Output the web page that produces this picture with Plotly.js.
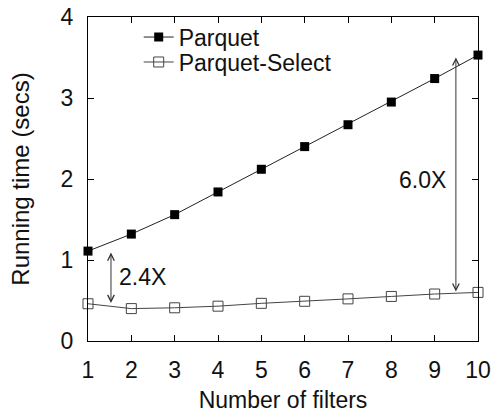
<!DOCTYPE html>
<html>
<head>
<meta charset="utf-8">
<script src="https://cdn.plot.ly/plotly-3.0.1.min.js"></script>
<style>html,body{margin:0;padding:0;background:#fff;}#chart{width:491px;height:413px;}</style>
</head>
<body>
<div id="chart"></div>
<script>
const filters = [1, 2, 3, 4, 5, 6, 7, 8, 9, 10];
const parquet = [1.11, 1.32, 1.56, 1.84, 2.12, 2.40, 2.67, 2.95, 3.24, 3.53];
const parquetSelect = [0.46, 0.40, 0.41, 0.43, 0.465, 0.49, 0.52, 0.55, 0.58, 0.60];
const xTicks = [1, 2, 3, 4, 5, 6, 7, 8, 9, 10];
const yTicks = [0, 1, 2, 3, 4];

const font = {family: 'Liberation Sans, Arial, sans-serif', size: 23, color: '#111'};
const yTitleFont = Object.assign({}, font, {size: 24});

const traces = [
  {x: filters, y: parquet, name: 'Parquet', mode: 'lines+markers', legend: 'legend',
   line: {color: '#222', width: 1}, marker: {symbol: 'square', size: 9, color: '#000'}, cliponaxis: false},
  {x: filters, y: parquetSelect, name: 'Parquet-Select', mode: 'lines+markers', legend: 'legend2',
   line: {color: '#444', width: 1}, marker: {symbol: 'square-open', size: 10, color: '#444', line: {width: 1}}, cliponaxis: false}
];

const axisCommon = {showgrid: false, zeroline: false, showline: true, linecolor: '#000', linewidth: 1.2,
  mirror: 'ticks', ticks: 'inside', ticklen: 6, tickcolor: '#000', tickfont: font};

const legendCommon = {xanchor: 'left', yanchor: 'middle', bgcolor: 'rgba(0,0,0,0)', font: font, itemwidth: 30};

const layout = {
  width: 491, height: 413,
  margin: {l: 88, r: 13, t: 17, b: 72},
  paper_bgcolor: '#fff', plot_bgcolor: '#fff',
  font: font,
  showlegend: true,
  legend: Object.assign({}, legendCommon, {x: 0.13, y: 0.938}),
  legend2: Object.assign({}, legendCommon, {x: 0.13, y: 0.861}),
  xaxis: Object.assign({}, axisCommon, {range: [1, 10], tickvals: xTicks, ticktext: xTicks.map(String),
    ticklabelstandoff: 8, title: {text: 'Number of filters', font: font, standoff: 13}}),
  yaxis: Object.assign({}, axisCommon, {range: [0, 4], tickvals: yTicks, ticktext: yTicks.map(String),
    ticklabelstandoff: 9, title: {text: 'Running time (secs)', font: yTitleFont, standoff: 24}}),
  annotations: [
    {x: 1.53, y: 0.47, ax: 1.53, ay: 1.11, xref: 'x', yref: 'y', axref: 'x', ayref: 'y', text: '',
     showarrow: true, arrowhead: 5, startarrowhead: 5, arrowside: 'end+start', arrowwidth: 1, arrowcolor: '#333', arrowsize: 1.3, startarrowsize: 1.3},
    {x: 1.67, y: 0.785, xref: 'x', yref: 'y', text: '2.4X', showarrow: false, xanchor: 'left', font: font},
    {x: 9.49, y: 0.61, ax: 9.49, ay: 3.52, xref: 'x', yref: 'y', axref: 'x', ayref: 'y', text: '',
     showarrow: true, arrowhead: 5, startarrowhead: 5, arrowside: 'end+start', arrowwidth: 1, arrowcolor: '#333', arrowsize: 1.3, startarrowsize: 1.3},
    {x: 9.31, y: 1.99, xref: 'x', yref: 'y', text: '6.0X', showarrow: false, xanchor: 'right', font: font}
  ]
};

Plotly.newPlot('chart', traces, layout, {displayModeBar: false, staticPlot: true});
</script>
</body>
</html>
